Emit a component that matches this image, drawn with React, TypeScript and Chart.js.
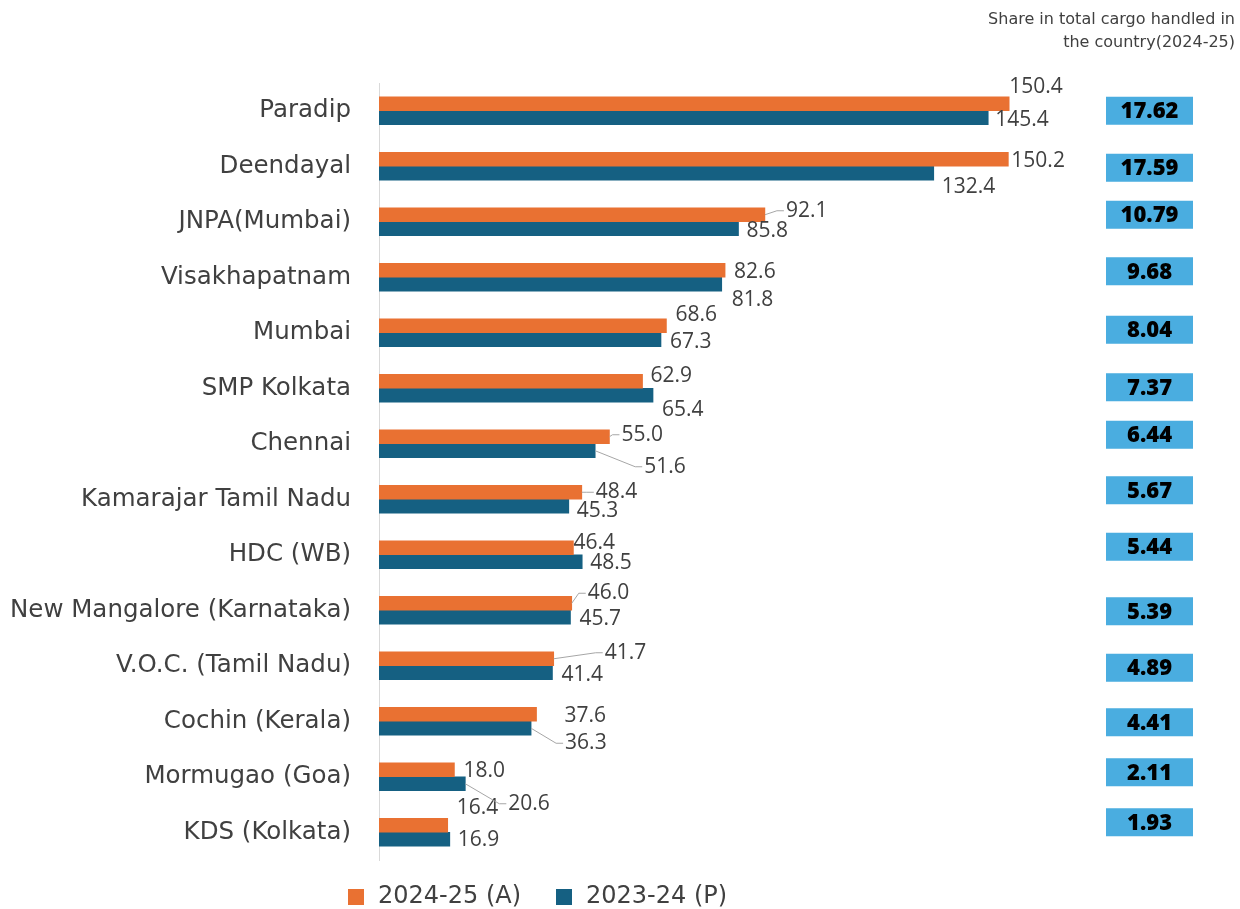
import { useEffect, useRef } from "react"
import { Chart, registerables } from "chart.js"

Chart.register(...registerables)

const ports = [
  "Paradip",
  "Deendayal",
  "JNPA(Mumbai)",
  "Visakhapatnam",
  "Mumbai",
  "SMP Kolkata",
  "Chennai",
  "Kamarajar Tamil Nadu",
  "HDC (WB)",
  "New Mangalore (Karnataka)",
  "V.O.C. (Tamil Nadu)",
  "Cochin (Kerala)",
  "Mormugao (Goa)",
  "KDS (Kolkata)",
]
const cargo2425 = [150.4, 150.2, 92.1, 82.6, 68.6, 62.9, 55.0, 48.4, 46.4, 46.0, 41.7, 37.6, 18.0, 16.4]
const cargo2324 = [145.4, 132.4, 85.8, 81.8, 67.3, 65.4, 51.6, 45.3, 48.5, 45.7, 41.4, 36.3, 20.6, 16.9]
const share2425 = ["17.62", "17.59", "10.79", "9.68", "8.04", "7.37", "6.44", "5.67", "5.44", "5.39", "4.89", "4.41", "2.11", "1.93"]
const seriesNames = ["2024-25 (A)", "2023-24 (P)"]
const shareTitle = ["Share in total cargo handled in", "the country(2024-25)"]

const ORANGE = "#E97132"
const TEAL = "#156082"
const TEXT = "#404040"
const FONT = "'DejaVu Sans', sans-serif"
const NUM_FONT = "'Open Sans', sans-serif"

// label placement [dx from bar end, dy from bar centre, leader line]
const labelPos: number[][][] = [
  [
    [0, -17, 0], [3, 1.5, 0], [21, -4, 1], [9, 1.5, 0], [9, -11, 0], [8, -5, 0], [12, -2, 1],
    [14, 0, 1], [0, -5, 0], [16, -10, 1], [51, -6, 1], [28, 2, 0], [9, 1.5, 0], [9, -17, 0],
  ],
  [
    [7, 2, 0], [8, 13.5, 0], [8, 2, 0], [10, 16, 0], [9, 2, 0], [9, 15, 0], [49, 16, 1],
    [8, 5, 0], [8, 1, 0], [9, 2, 0], [9, 2, 0], [34, 15, 1], [43, 20, 1], [8, 1, 0],
  ],
]
const boxShift = [0, 1.5, -7, -6, -3, -1, -9, -9, -8, 1, 2, 1, -4.5, -10]

const extras = {
  id: "extras",
  afterDatasetsDraw(chart: Chart) {
    const ctx = chart.ctx
    ctx.save()
    ctx.font = `21px ${NUM_FONT}`
    ctx.textBaseline = "middle"
    ctx.textAlign = "left"
    chart.data.datasets.forEach((ds, di) => {
      const meta = chart.getDatasetMeta(di)
      meta.data.forEach((bar: any, i) => {
        const [dx, dy, leader] = labelPos[di][i]
        const lx = bar.x + dx
        const ly = bar.y + dy
        if (leader) {
          ctx.strokeStyle = "#a6a6a6"
          ctx.lineWidth = 1
          ctx.beginPath()
          ctx.moveTo(bar.x, bar.y)
          ctx.lineTo(lx - 9, ly)
          ctx.lineTo(lx - 2, ly)
          ctx.stroke()
        }
        ctx.fillStyle = TEXT
        ctx.fillText(Number(ds.data[i]).toFixed(1), lx, ly)
      })
    })

    // share boxes
    const y = chart.scales.y
    share2425.forEach((s, i) => {
      const cy = y.getPixelForValue(i) + boxShift[i]
      ctx.fillStyle = "#4AADE0"
      ctx.fillRect(1106, cy - 14, 87, 28)
      ctx.fillStyle = "#000"
      ctx.font = `800 22px ${NUM_FONT}`
      ctx.textAlign = "center"
      ctx.fillText(s, 1149.5, cy + 1)
    })

    // title
    ctx.font = `16px ${FONT}`
    ctx.fillStyle = TEXT
    ctx.textAlign = "right"
    ctx.fillText(shareTitle[0], 1235, 20)
    ctx.fillText(shareTitle[1], 1235, 43)

    // legend
    ctx.font = `24px ${FONT}`
    ctx.textAlign = "left"
    const colors = [ORANGE, TEAL]
    const xs = [348, 556]
    seriesNames.forEach((n, k) => {
      ctx.fillStyle = colors[k]
      ctx.fillRect(xs[k], 889, 16, 16)
      ctx.fillStyle = TEXT
      ctx.fillText(n, xs[k] + 30, 897)
    })
    ctx.restore()
  },
}

function CargoChart() {
  const chartRef = useRef<HTMLCanvasElement>(null)
  const chartInstance = useRef<Chart | null>(null)

  useEffect(() => {
    if (!chartRef.current) return
    if (chartInstance.current) chartInstance.current.destroy()
    const ctx = chartRef.current.getContext("2d")
    if (!ctx) return

    chartInstance.current = new Chart(ctx, {
      type: "bar",
      data: {
        labels: ports,
        datasets: [
          { label: seriesNames[0], data: cargo2425, backgroundColor: ORANGE, barThickness: 14 },
          { label: seriesNames[1], data: cargo2324, backgroundColor: TEAL, barThickness: 14 },
        ],
      },
      options: {
        indexAxis: "y",
        responsive: false,
        animation: false,
        layout: { padding: { top: 83, bottom: 49, right: 190.6, left: 0 } },
        scales: {
          x: { display: false, min: 0, max: 160 },
          y: {
            afterFit: (axis: any) => {
              axis.width = 379
            },
            grid: { display: false, drawTicks: false },
            border: { display: true, color: "#d9d9d9", width: 1 },
            ticks: { color: TEXT, padding: 28, font: { family: FONT, size: 24.5 } },
          },
        },
        plugins: {
          legend: { display: false },
          tooltip: { enabled: false },
        },
      },
      plugins: [extras],
    })

    return () => {
      if (chartInstance.current) {
        chartInstance.current.destroy()
        chartInstance.current = null
      }
    }
  }, [])

  return <canvas ref={chartRef} width={1240} height={909} style={{ display: "block" }} />
}

export default function App() {
  return (
    <div style={{ position: "absolute", left: 0, top: 0, width: 1240, height: 909, background: "#fff" }}>
      <CargoChart />
    </div>
  )
}
